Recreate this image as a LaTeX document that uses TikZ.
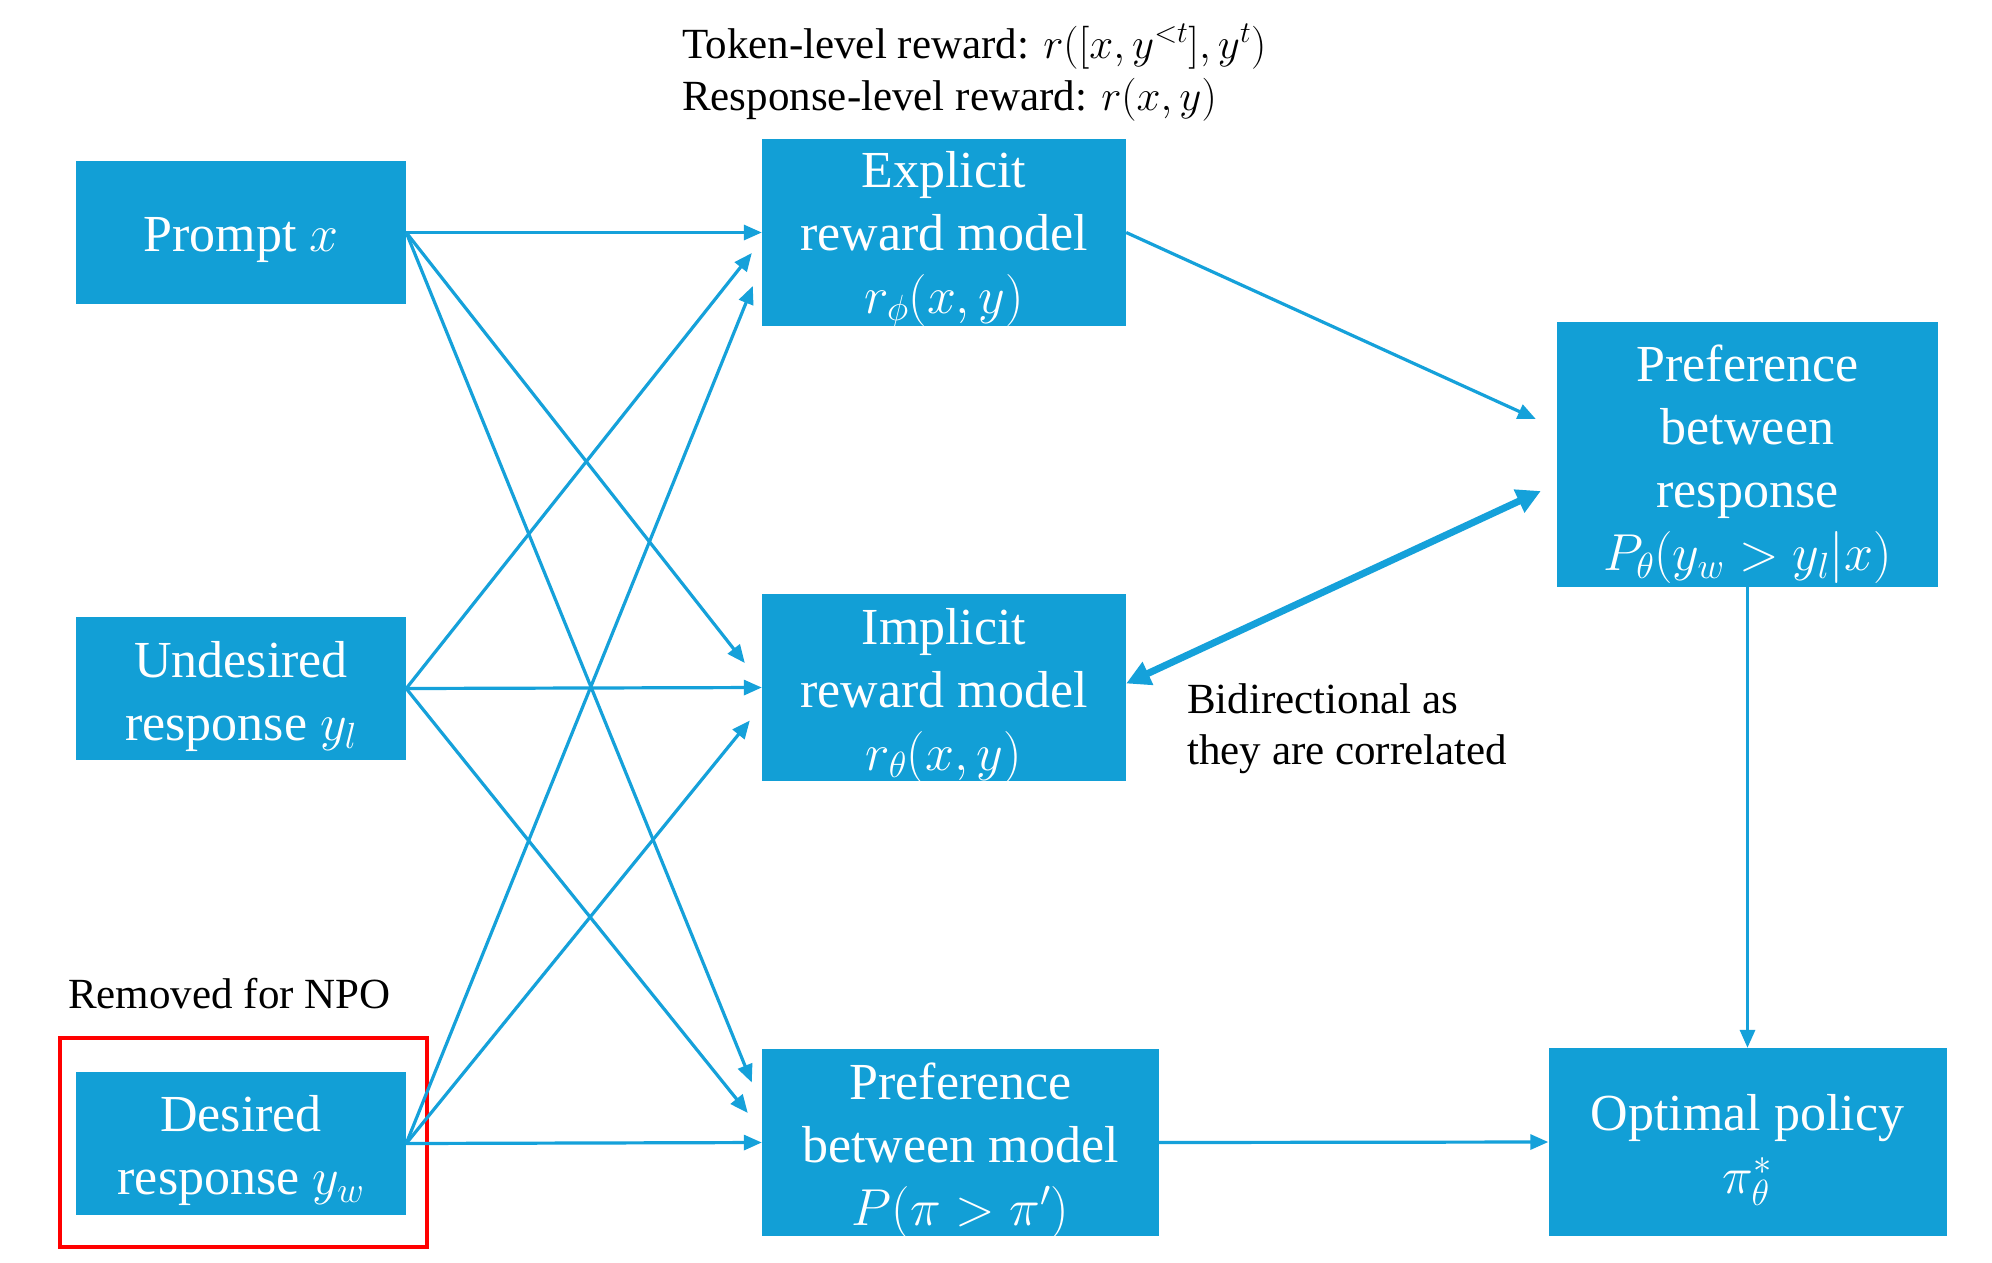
\RequirePackage{fix-cm}
\documentclass[tikz,border=0pt]{standalone}
\usepackage{fontspec}
\setmainfont{Liberation Serif}
\usetikzlibrary{arrows.meta,calc}
\definecolor{boxblue}{HTML}{129FD6}
\definecolor{lineblue}{HTML}{15A1DA}
\begin{document}
\begin{tikzpicture}[x=1pt,y=-1pt,
  blk/.style={fill=boxblue, inner sep=0pt},
  txt/.style={text=white, align=center, inner sep=0pt,
    font=\fontsize{52}{63}\selectfont},
  ann/.style={font=\fontsize{43}{51}\selectfont, inner sep=0pt, anchor=base west},
  conn/.style={draw=lineblue, line width=3.2pt, -{Triangle[length=18pt,width=15pt]}},
  bidir/.style={draw=lineblue, line width=7pt,
    {Triangle[length=24pt,width=24pt]}-{Triangle[length=24pt,width=24pt]}},
  redframe/.style={draw=red, line width=4pt, inner sep=0pt}]
\useasboundingbox (0,0) rectangle (1992,1262);
\fill[white] (0,0) rectangle (1992,1262);

% left column
\node[blk, minimum width=330pt, minimum height=143pt] (prompt) at (241,232.5) {};
\node[txt] (prompt-t) at ([yshift=-8pt]prompt.center) {Prompt $x$};
\node[blk, minimum width=330pt, minimum height=143pt] (undes) at (241,688.5) {};
\node[txt] (undes-t) at ([yshift=-8pt]undes.center) {Undesired\\response $y_l$};
\node[blk, minimum width=330pt, minimum height=143pt] (des) at (241,1143.5) {};
\node[txt] (des-t) at ([yshift=-7pt]des.center) {Desired\\response $y_w$};
\node[redframe, minimum width=367pt, minimum height=209pt] (redbox) at (243.5,1142.5) {};

% middle column
\node[blk, minimum width=364pt, minimum height=187pt] (expl) at (944,232.5) {};
\node[txt] (expl-t) at ([yshift=-7pt]expl.center) {Explicit\\reward model\\$r_\phi(x,y)$};
\node[blk, minimum width=364pt, minimum height=187pt] (impl) at (944,687.5) {};
\node[txt] (impl-t) at ([yshift=-8pt]impl.center) {Implicit\\reward model\\$r_\theta(x,y)$};
\node[blk, minimum width=397pt, minimum height=187pt] (prefm) at (960.5,1142.5) {};
\node[txt] (prefm-t) at ([yshift=-8pt]prefm.center) {Preference\\between model\\$P(\pi>\pi')$};

% right column
\node[blk, minimum width=381pt, minimum height=265pt] (prefr) at (1747.5,454.5) {};
\node[txt] (prefr-t) at ([yshift=-10pt]prefr.center) {Preference\\between\\response\\$P_\theta(y_w>y_l|x)$};
\node[blk, minimum width=398pt, minimum height=188pt] (opt) at (1747.5,1142) {};
\node[txt] (opt-t) at ([yshift=-8pt]opt.center) {Optimal policy\\$\pi_\theta^*$};

% annotations
\node[ann] (tok) at (682,58) {Token-level reward: $r([x,y^{<t}],y^t)$};
\node[ann] (resp) at (682,110) {Response-level reward: $r(x,y)$};
\node[ann] (bid1) at (1187,713) {Bidirectional as};
\node[ann] (bid2) at (1187,764) {they are correlated};
\node[ann] (rem) at (68,1008) {Removed for NPO};

% connectors from prompt
\draw[conn] (prompt.east) -- (expl.west);
\draw[conn] (prompt.east) -- ($(impl.west)+(-17,-24.5)$);
\draw[conn] (prompt.east) -- ($(prefm.west)+(-10,-60)$);
% from undesired
\draw[conn] (undes.east) -- ($(expl.west)+(-10,20.5)$);
\draw[conn] (undes.east) -- (impl.west);
\draw[conn] (undes.east) -- ($(prefm.west)+(-14,-29.5)$);
% from desired
\draw[conn] (des.east) -- ($(expl.west)+(-9,53.5)$);
\draw[conn] (des.east) -- ($(impl.west)+(-12,33)$);
\draw[conn] (des.east) -- (prefm.west);
% right part
\draw[conn] (expl.east) -- ($(prefr.west)+(-21,-35.5)$);
\draw[bidir] ($(impl.east)+(0,-4)$) -- ($(prefr.west)+(-16,36.5)$);
\draw[conn] (prefr.south) -- (opt.north);
\draw[conn] (prefm.east) -- (opt.west);
\end{tikzpicture}
\end{document}
